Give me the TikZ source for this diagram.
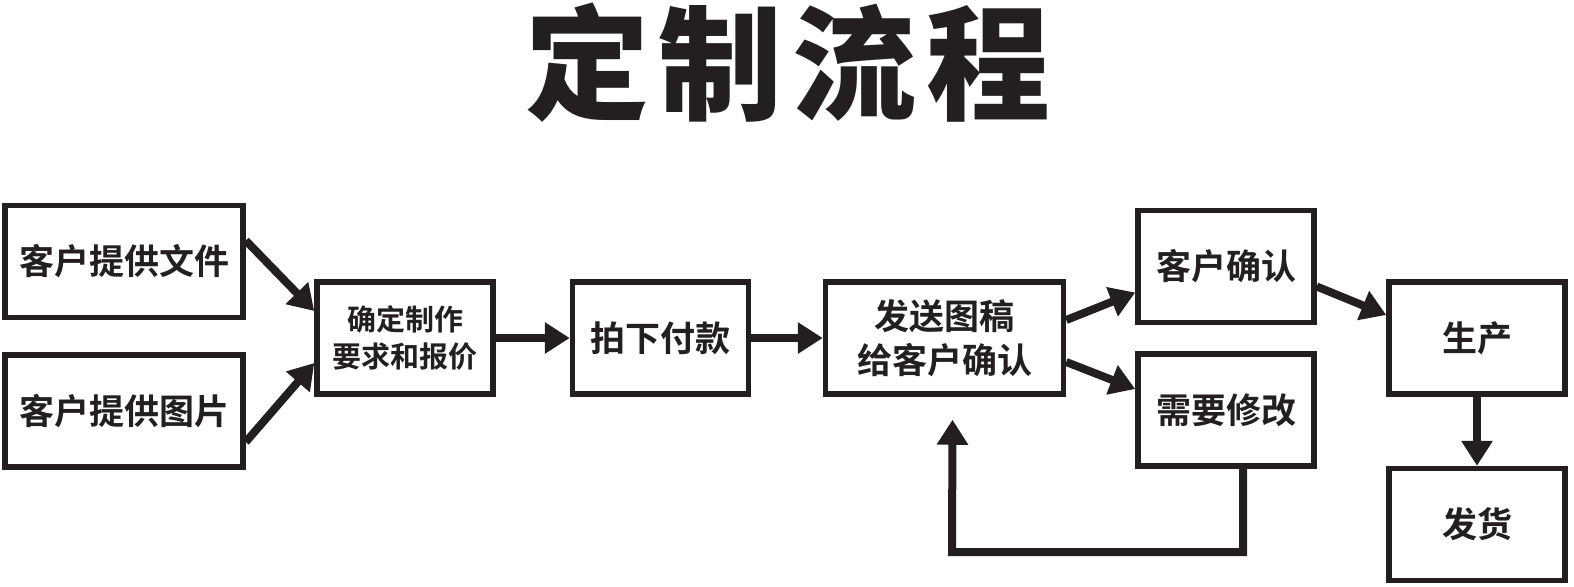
\documentclass[tikz,border=0pt]{standalone}
\usepackage{fontspec}
\setmainfont{Noto Sans CJK SC}[BoldFont={Noto Sans CJK SC Bold}]
\newfontfamily\titlefont{Noto Sans CJK SC Black}[LetterSpace=8]
\usetikzlibrary{arrows.meta,positioning,calc}
\definecolor{ink}{HTML}{231F20}
\tikzset{
  every node/.style={text=ink},
  box/.style={draw=ink,line width=2.75pt,fill=white,minimum height=56pt,minimum width=88pt,align=center,inner sep=0pt,font=\bfseries\fontsize{17.5}{22}\selectfont},
  widebox/.style={box,minimum width=119pt},
  smallbox/.style={box,font=\bfseries\fontsize{14.5}{18.5}\selectfont},
  arrow/.style={-{Triangle[length=12.5pt,width=15pt]},line width=4pt,draw=ink},
}

\begin{document}
\begin{tikzpicture}[x=0.5pt,y=-0.5pt]
\useasboundingbox (0,0) rectangle (1574,586);

\node[font=\titlefont\fontsize{62}{62}\selectfont] (title) at (788,63) {定制流程};

\node[widebox] (wenjian) at (124,261.5) {客户提供文件};
\node[widebox,below=16pt of wenjian] (tupian) {客户提供图片};
\node[smallbox] (baojia) at (405,338) {确定制作\\要求和报价};
\node[box] (fukuan) at (660.5,338) {拍下付款};
\node[widebox] (tugao) at (944.5,338) {发送图稿\\给客户确认};
\node[box] (queren) at (1226,266.5) {客户确认};
\node[box,below=13pt of queren] (xiugai) {需要修改};
\node[box] (shengchan) at (1477,338) {生产};
\node[box,below=34.5pt of shengchan] (fahuo) {发货};
\coordinate (back) at (952,552);

\draw[arrow] ($(wenjian.east)+(0,-21)$) -- ($(baojia.west)+(0,-27)$);
\draw[arrow] ($(tupian.east)+(0,31)$) -- ($(baojia.west)+(0,25)$);
\draw[arrow] (baojia) -- (fukuan);
\draw[arrow] (fukuan) -- (tugao);
\draw[arrow] ($(tugao.east)+(0,-18)$) -- ($(queren.west)+(0,26)$);
\draw[arrow] ($(tugao.east)+(0,24)$) -- ($(xiugai.west)+(0,-21)$);
\draw[arrow] ($(queren.east)+(0,20)$) -- ($(shengchan.west)+(0,-23)$);
\draw[arrow] (shengchan) -- (fahuo);
\draw[arrow] ($(xiugai.south)+(17,0)$) |- (back) -- ($(tugao.south)+(8,23)$);

\end{tikzpicture}
\end{document}
